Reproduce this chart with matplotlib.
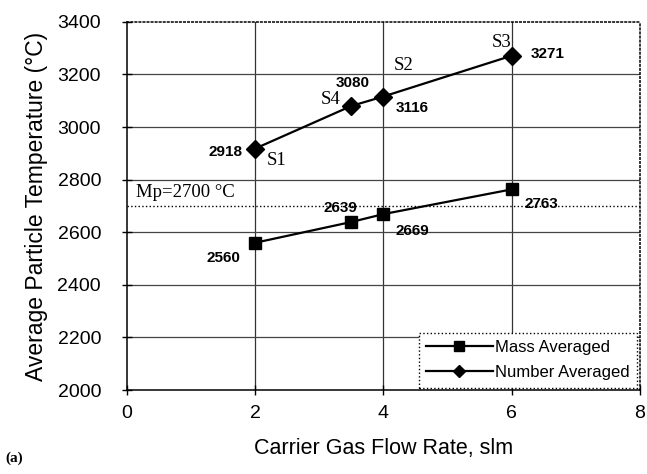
import matplotlib
matplotlib.use("Agg")
import matplotlib.pyplot as plt

flow = [2, 3.5, 4, 6]
mass_avg = [2560, 2639, 2669, 2763]
number_avg = [2918, 3080, 3116, 3271]
sample_names = ["S1", "S4", "S2", "S3"]
melting_point = 2700

# label offsets in pixels (text centre relative to the point)
number_offsets = [(-30, -3), (1, 23), (29, -11), (36, 2)]
sample_offsets = [(22, -12), (-21, 6), (20, 31), (-10, 13)]
mass_offsets = [(-32, -15), (-11, 14), (29, -17), (30, -15)]

plt.rcParams["font.family"] = ["Liberation Sans", "DejaVu Sans"]

fig = plt.figure(figsize=(6.47, 4.74), dpi=100)
ax = fig.add_axes([0.196, 0.177, 0.793, 0.777])

ax.set_xlim(0, 8)
ax.set_ylim(2000, 3400)
ax.set_xticks(range(0, 9, 2))
ax.set_yticks(range(2000, 3401, 200))
ax.tick_params(direction="inout", length=7, width=1, labelsize=14)
ax.tick_params(axis="y", pad=15)
ax.tick_params(axis="x", pad=7)

for x in [2, 4, 6]:
    ax.axvline(x, color="#333333", lw=0.9, zorder=1)
for y in range(2200, 3400, 200):
    ax.axhline(y, color="#444444", lw=0.9, zorder=1)
ax.axhline(melting_point, color="black", lw=1.0, ls=":", zorder=1)

for s in ax.spines.values():
    s.set_linewidth(1.1)
ax.spines["top"].set_linestyle(":")
ax.spines["right"].set_linestyle(":")

ax.plot(flow, mass_avg, color="black", lw=1.6, marker="s", ms=9,
        label="Mass Averaged", zorder=3)
ax.plot(flow, number_avg, color="black", lw=1.6, marker="D", ms=9,
        label="Number Averaged", zorder=3)

for x, y, off in zip(flow, number_avg, number_offsets):
    ax.annotate(str(y), (x, y), xytext=off, textcoords="offset pixels",
                ha="center", va="center", fontsize=11, fontweight="bold")
for x, y, name, off in zip(flow, number_avg, sample_names, sample_offsets):
    ax.annotate(name, (x, y), xytext=off, textcoords="offset pixels",
                ha="center", va="center", fontsize=13.5, family="Liberation Serif")
for x, y, off in zip(flow, mass_avg, mass_offsets):
    ax.annotate(str(y), (x, y), xytext=off, textcoords="offset pixels",
                ha="center", va="center", fontsize=11, fontweight="bold")

ax.annotate("Mp=%d \u00b0C" % melting_point, (0, melting_point), xytext=(9, 13),
            textcoords="offset pixels", ha="left", va="center",
            fontsize=13.5, family="Liberation Serif")

ax.set_xlabel("Carrier Gas Flow Rate, slm", fontsize=15.5, labelpad=12)
ax.set_ylabel("Average Particle Temperature (\u00b0C)", fontsize=16.5, labelpad=7)

leg = ax.legend(loc="lower right", fontsize=12, handlelength=4.0,
                fancybox=False, framealpha=1, borderaxespad=0.15,
                labelspacing=0.6, handletextpad=0.15, borderpad=0.45)
leg.get_frame().set_edgecolor("black")
leg.get_frame().set_linestyle(":")
leg.get_frame().set_linewidth(1.0)
for h in leg.get_lines():
    h.set_markersize(6.5)

fig.text(0.008, 0.025, "(a)", fontsize=11, fontweight="bold",
         family="Liberation Serif")

fig.savefig("out.png", dpi=100)
